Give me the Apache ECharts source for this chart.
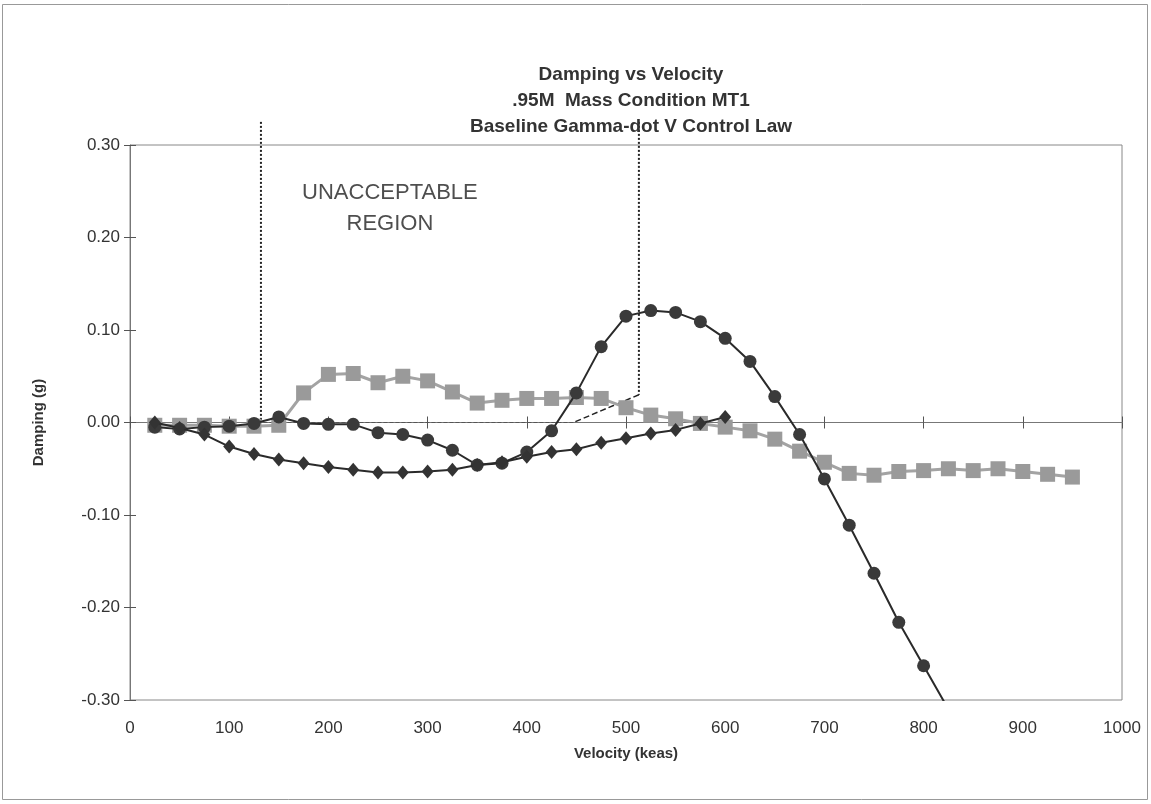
<!DOCTYPE html>
<html>
<head>
<meta charset="utf-8">
<script src="https://cdn.jsdelivr.net/npm/echarts@6/dist/echarts.min.js"></script>
<style>
html,body{margin:0;padding:0;background:#fff;}
#chart{width:1151px;height:804px;}
</style>
</head>
<body>
<div id="chart"></div>
<script>
// ---- data ----
const titleLines = ['Damping vs Velocity', '.95M  Mass Condition MT1', 'Baseline Gamma-dot V Control Law'];
const xTicks = [0, 100, 200, 300, 400, 500, 600, 700, 800, 900, 1000];
const yTicks = [-0.3, -0.2, -0.1, 0, 0.1, 0.2, 0.3];

const velSquares = [25,50,75,100,125,150,175,200,225,250,275,300,325,350,375,400,425,450,475,500,525,550,575,600,625,650,675,700,725,750,775,800,825,850,875,900,925,950];
const dampSquares = [-0.003,-0.003,-0.003,-0.004,-0.004,-0.003,0.032,0.052,0.053,0.043,0.050,0.045,0.033,0.021,0.024,0.026,0.026,0.027,0.026,0.016,0.008,0.004,-0.001,-0.005,-0.009,-0.018,-0.031,-0.043,-0.055,-0.057,-0.053,-0.052,-0.050,-0.052,-0.050,-0.053,-0.056,-0.059];

const velCircles = [25,50,75,100,125,150,175,200,225,250,275,300,325,350,375,400,425,450,475,500,525,550,575,600,625,650,675,700,725,750,775,800,825];
const dampCircles = [-0.005,-0.007,-0.005,-0.004,-0.001,0.006,-0.001,-0.002,-0.002,-0.011,-0.013,-0.019,-0.030,-0.046,-0.044,-0.032,-0.009,0.032,0.082,0.115,0.121,0.119,0.109,0.091,0.066,0.028,-0.013,-0.061,-0.111,-0.163,-0.216,-0.263,-0.310];

const velDiamonds = [25,50,75,100,125,150,175,200,225,250,275,300,325,350,375,400,425,450,475,500,525,550,575,600];
const dampDiamonds = [0.000,-0.006,-0.013,-0.026,-0.034,-0.040,-0.044,-0.048,-0.051,-0.054,-0.054,-0.053,-0.051,-0.046,-0.043,-0.037,-0.032,-0.029,-0.022,-0.017,-0.012,-0.008,-0.001,0.006];

// boundary of the unacceptable region
const regionLeftVel = [132, 132];
const regionLeftDamp = [0.325, 0.0];
const regionRightVel = [513, 513];
const regionRightDamp = [0.325, 0.030];
const regionSlopeVel = [513, 447];
const regionSlopeDamp = [0.030, 0.0];
const regionBaseVel = [447, 132];
const regionBaseDamp = [0.0, 0.0];
const regionLabel = 'UNACCEPTABLE\nREGION';
const regionLabelPos = [262, 0.231];

const zip = (a, b) => a.map((v, i) => [v, b[i]]);

const FONT = '"Liberation Sans", Arial, sans-serif';
const chart = echarts.init(document.getElementById('chart'), null, {renderer: 'canvas'});

const boundaryStyle = (type, w) => ({
  type: 'line', xAxisIndex: 0, yAxisIndex: 0, symbol: 'none', silent: true, clip: false,
  lineStyle: {color: '#222', width: w, type: type}, z: 1
});

chart.setOption({
  animation: false,
  backgroundColor: '#fff',
  title: {
    text: titleLines.join('\n'),
    left: 626, top: 57, textAlign: 'center',
    textStyle: {fontFamily: FONT, fontSize: 19, fontWeight: 'bold', color: '#333', lineHeight: 26}
  },
  grid: {left: 130, right: 29, top: 145, bottom: 104, show: true, borderColor: '#888', borderWidth: 1, backgroundColor: 'transparent'},
  xAxis: [
    {type: 'value', min: 0, max: 1000, interval: 100, position: 'bottom',
     axisLine: {show: false, onZero: false}, axisTick: {show: false}, splitLine: {show: false},
     axisLabel: {fontFamily: FONT, fontSize: 17, color: '#333', margin: 20, formatter: v => String(v)},
     name: 'Velocity (keas)', nameLocation: 'middle', nameGap: 46,
     nameTextStyle: {fontFamily: FONT, fontSize: 15, fontWeight: 'bold', color: '#333'}},
    {type: 'value', min: 0, max: 1000, interval: 100, position: 'bottom',
     axisLine: {show: true, onZero: true, onZeroAxisIndex: 0, lineStyle: {color: '#777', width: 1}},
     axisTick: {show: true, inside: false, length: 6, lineStyle: {color: '#555'}},
     axisLabel: {show: false}, splitLine: {show: false}},
    {type: 'value', min: 0, max: 1000, interval: 100, position: 'bottom',
     axisLine: {show: false, onZero: true, onZeroAxisIndex: 0},
     axisTick: {show: true, inside: true, length: 6, lineStyle: {color: '#555'}},
     axisLabel: {show: false}, splitLine: {show: false}}
  ],
  yAxis: [
    {type: 'value', min: -0.3, max: 0.3, interval: 0.1, position: 'left',
     axisLine: {show: true, onZero: false, lineStyle: {color: '#777', width: 1}},
     axisTick: {show: true, inside: false, length: 6, lineStyle: {color: '#555'}},
     axisLabel: {fontFamily: FONT, fontSize: 17, color: '#333', margin: 10, formatter: v => v.toFixed(2)},
     splitLine: {show: false},
     name: 'Damping (g)', nameLocation: 'middle', nameGap: 84,
     nameTextStyle: {fontFamily: FONT, fontSize: 15, fontWeight: 'bold', color: '#333'}},
    {type: 'value', min: -0.3, max: 0.3, interval: 0.1, position: 'left',
     axisLine: {show: false, onZero: false},
     axisTick: {show: true, inside: true, length: 6, lineStyle: {color: '#555'}},
     axisLabel: {show: false}, splitLine: {show: false}}
  ],
  graphic: [
    {type: 'rect', shape: {x: 2.5, y: 4.5, width: 1145, height: 795}, style: {fill: 'none', stroke: '#999', lineWidth: 1}, silent: true, z: -10}
  ],
  series: [
    Object.assign(boundaryStyle('dotted', 2), {data: zip(regionLeftVel, regionLeftDamp)}),
    Object.assign(boundaryStyle('dotted', 2), {data: zip(regionRightVel, regionRightDamp)}),
    Object.assign(boundaryStyle('dashed', 1.5), {data: zip(regionSlopeVel, regionSlopeDamp)}),
    Object.assign(boundaryStyle('dashed', 1), {data: zip(regionBaseVel, regionBaseDamp), lineStyle: {color: '#555', width: 1, type: 'dashed'}}),
    {type: 'line', xAxisIndex: 0, yAxisIndex: 0, data: zip(velSquares, dampSquares),
     symbol: 'rect', symbolSize: 15, itemStyle: {color: '#9a9a9a'},
     lineStyle: {color: '#a3a3a3', width: 3}, z: 2},
    {type: 'line', xAxisIndex: 0, yAxisIndex: 0, data: zip(velCircles, dampCircles),
     symbol: 'circle', symbolSize: 13, itemStyle: {color: '#3a3a3a'},
     lineStyle: {color: '#2a2a2a', width: 2}, z: 3},
    {type: 'line', xAxisIndex: 0, yAxisIndex: 0, data: zip(velDiamonds, dampDiamonds),
     symbol: 'diamond', symbolSize: [12, 14], itemStyle: {color: '#333'},
     lineStyle: {color: '#2a2a2a', width: 2}, z: 4},
    {type: 'scatter', xAxisIndex: 0, yAxisIndex: 0, data: [regionLabelPos], symbolSize: 0, silent: true,
     label: {show: true, position: 'inside', formatter: regionLabel, fontFamily: FONT, fontSize: 22, color: '#222', lineHeight: 31, align: 'center'}}
  ]
});
</script>
</body>
</html>
